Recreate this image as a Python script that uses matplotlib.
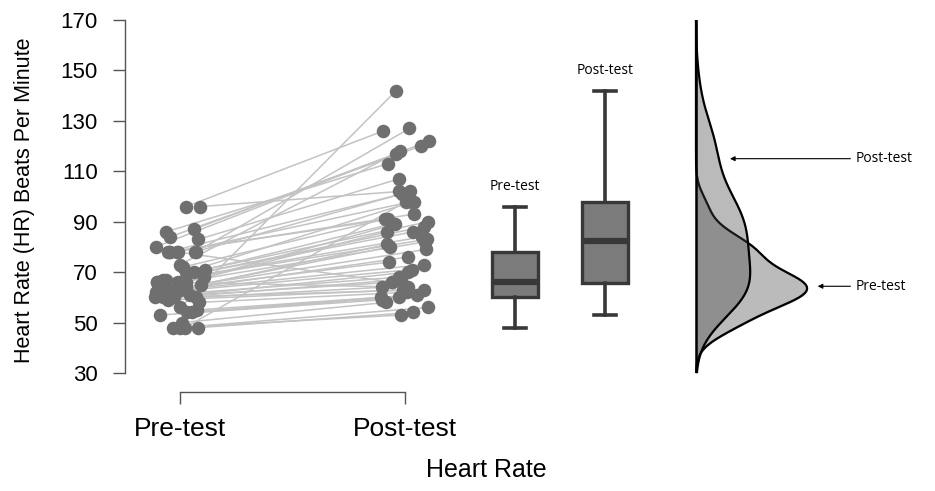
"""
Paired pre/post heart rate: raincloud-style figure (dots + boxplots + densities)
"""

import numpy as np
import matplotlib.pyplot as plt

# paired observations (one entry per participant)
pre_test = [96, 96, 87, 86, 84, 83, 80, 78, 78, 78, 78, 78, 78, 78,
            73, 72, 71, 70, 70, 68, 67, 67, 66, 66, 66, 66, 66, 65,
            64, 64, 63, 63, 62, 62, 61, 61, 60, 60, 60, 60, 59, 58,
            56, 55, 54, 54, 53, 50, 48, 48, 48, 48]
post_test = [126, 102, 117, 113, 120, 107, 122, 127, 102, 98, 93, 91, 101, 66,
             118, 91, 90, 89, 98, 89, 88, 86, 86, 84, 83, 82, 64, 81,
             80, 79, 76, 74, 73, 71, 70, 68, 67, 66, 64, 63, 63, 62,
             142, 61, 60, 60, 59, 58, 56, 54, 53, 98]
group_labels = ['Pre-test', 'Post-test']
y_ticks = [30, 50, 70, 90, 110, 130, 150, 170]
y_label = 'Heart Rate (HR) Beats Per Minute'
x_label = 'Heart Rate'


def kde(values, grid):
    """Gaussian KDE, Silverman rule-of-thumb bandwidth"""
    v = np.asarray(values, dtype=float)
    bw = 1.06 * v.std(ddof=1) * len(v) ** -0.2
    z = (grid[:, None] - v[None, :]) / bw
    return np.exp(-0.5 * z ** 2).sum(axis=1) / (len(v) * bw * np.sqrt(2 * np.pi))


W, H = 935, 491
fig = plt.figure(figsize=(W / 100, H / 100), dpi=100)
plt.rcParams['font.family'] = ['Liberation Sans', 'DejaVu Sans']

bottom = (H - 373) / H
height = (373 - 20) / H
ylim = (30, 170)

# ---- left panel: paired dots ----
ax = fig.add_axes([125 / W, bottom, 335 / W, height])
rng = np.random.default_rng(7)
jit_pre = 1 + rng.uniform(-0.11, 0.11, len(pre_test))
jit_post = 2 + rng.uniform(-0.11, 0.11, len(post_test))
for x0, x1, a, b in zip(jit_pre, jit_post, pre_test, post_test):
    ax.plot([x0, x1], [a, b], color='#c3c3c3', lw=1.1, zorder=1)
ax.scatter(jit_pre, pre_test, s=95, color='#6f6f6f', zorder=2, linewidths=0)
ax.scatter(jit_post, post_test, s=95, color='#6f6f6f', zorder=2, linewidths=0)

ax.set_xlim(1 - 55 / 225, 2 + 55 / 225)
ax.set_ylim(*ylim)
ax.set_yticks(y_ticks)
ax.set_xticks([1, 2])
ax.set_xticklabels(group_labels)
for s in ['top', 'right']:
    ax.spines[s].set_visible(False)
ax.spines['left'].set_bounds(30, 170)
ax.spines['bottom'].set_bounds(1, 2)
ax.spines['bottom'].set_position(('outward', 14))
for s in ['left', 'bottom']:
    ax.spines[s].set_color('#555555')
    ax.spines[s].set_linewidth(1.0)
ax.tick_params(axis='y', length=8.6, width=1.0, color='#555555', pad=11, labelsize=16)
ax.tick_params(axis='x', length=8.6, width=1.0, color='#555555', pad=9, labelsize=19)
ax.patch.set_alpha(0)

fig.text(25 / W, 1 - 200 / H, y_label, rotation=90, ha='center', va='center', fontsize=15.5)
fig.text(486 / W, 1 - 470 / H, x_label, ha='center', va='center', fontsize=18)

# ---- middle panel: boxplots ----
axb = fig.add_axes([470 / W, bottom, 180 / W, height])
bp = axb.boxplot([pre_test, post_test], positions=[1, 2], widths=0.52,
                 patch_artist=True, whis=1.5, showfliers=False,
                 capwidths=0.24)
for box in bp['boxes']:
    box.set(facecolor='#7b7b7b', edgecolor='#383838', linewidth=2.4)
for k in ['whiskers', 'caps']:
    for ln in bp[k]:
        ln.set(color='#383838', linewidth=2.6)
for ln in bp['medians']:
    ln.set(color='#383838', linewidth=4.5)
axb.set_xlim(0.5, 2.5)
axb.set_ylim(*ylim)
axb.axis('off')
for pos, vals, lab in zip([1, 2], [pre_test, post_test], group_labels):
    axb.text(pos, max(vals) + 5, lab, ha='center', va='bottom',
             fontsize=10, family=['Open Sans', 'DejaVu Sans'])

# ---- right panel: densities ----
axd = fig.add_axes([694 / W, bottom, 241 / W, height])
grid = np.linspace(30, 170, 600)
d_pre = kde(pre_test, grid)
d_post = kde(post_test, grid)
axd.fill_betweenx(grid, 0, d_pre, color='#bbbbbb', zorder=1)
axd.plot(d_pre, grid, color='black', lw=1.6, zorder=2)
axd.fill_betweenx(grid, 0, d_post, color='#454545', alpha=0.37, lw=0, zorder=3)
axd.plot(d_post, grid, color='black', lw=1.6, zorder=4)
axd.plot([0, 0], ylim, color='black', lw=1.8, zorder=5)
axd.set_xlim(-d_pre.max() * 2 / 112, d_pre.max() * 241 / 112)
axd.set_ylim(*ylim)
axd.axis('off')

arrow = dict(arrowstyle='-|>', color='black', lw=0.8, mutation_scale=7,
             shrinkA=2, shrinkB=8)
for vals, dens, y_at, lab in [(post_test, d_post, 115, 'Post-test'),
                              (pre_test, d_pre, 64.4, 'Pre-test')]:
    xd = np.interp(y_at, grid, dens)
    axd.annotate(lab, xy=(xd, y_at), xycoords='data',
                 xytext=(856 / W, y_at), textcoords=('figure fraction', 'data'),
                 ha='left', va='center', fontsize=10,
                 family=['Open Sans', 'DejaVu Sans'], arrowprops=arrow)

plt.savefig('out.png', dpi=100)
plt.close()
